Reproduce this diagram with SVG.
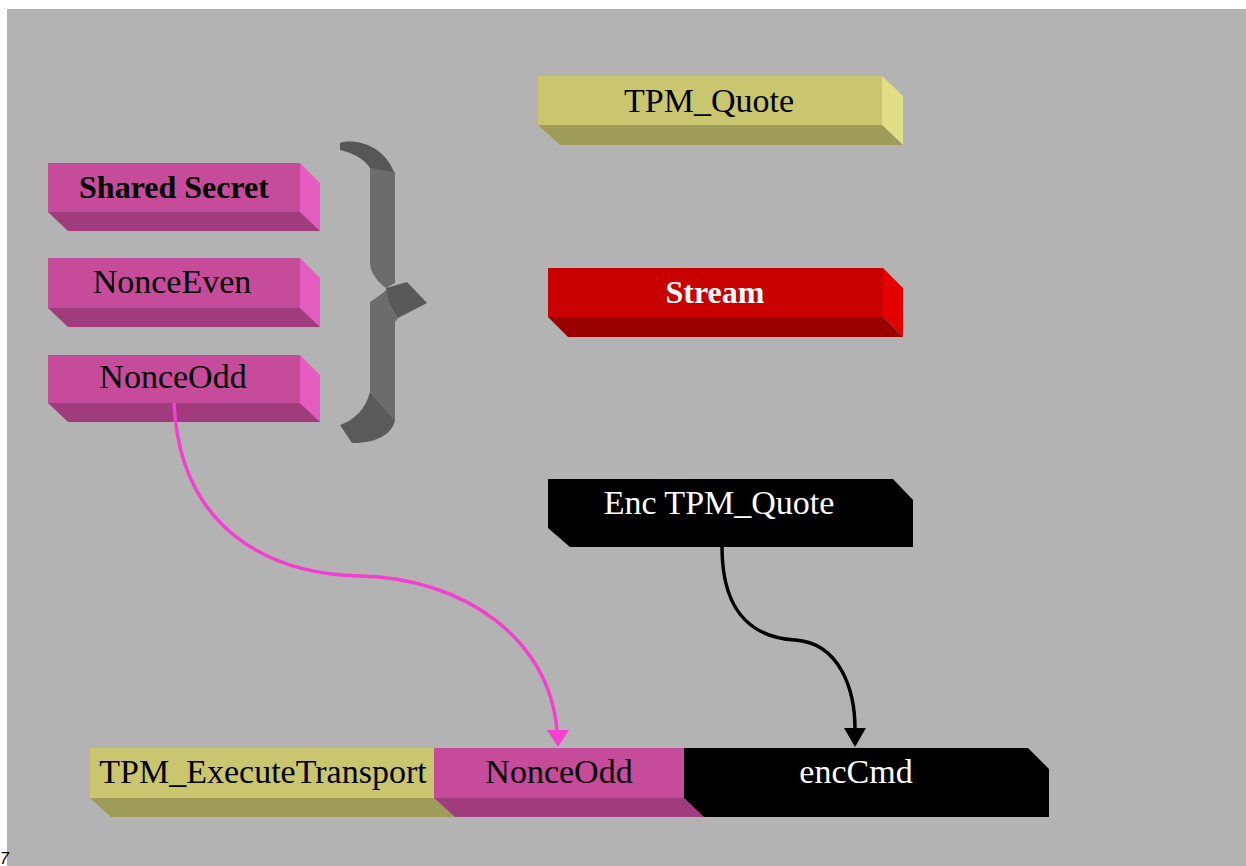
<svg xmlns="http://www.w3.org/2000/svg" width="1246" height="866" viewBox="0 0 1246 866">
<defs>
<style>
.lbl{font-family:"Liberation Serif","Times New Roman",serif;font-size:34px;text-anchor:middle}
.bold{font-weight:bold;font-size:32px}
.dk{fill:#000}
.wt{fill:#fff}
.mf{fill:#c64b9b}.ms{fill:#e45cc0}.mb{fill:#a03b7d}
.kf{fill:#cac56f}.ks{fill:#e2de88}.kb{fill:#9f9b58}
.rf{fill:#c80000}.rs{fill:#e40000}.rb{fill:#9a0000}
.edge{fill:none;stroke-width:3.5}
</style>
</defs>
<rect x="0" y="0" width="1246" height="866" fill="#fff"/>
<rect x="7" y="9" width="1239" height="857" fill="#b3b3b3"/>
<text x="0" y="864" font-family="Liberation Sans, Arial, sans-serif" font-size="16" font-style="italic" fill="#000">7</text>

<g id="brace">
<path d="M340,143 C356,138 386,146 395,175 L370,168 C364,158 350,152 340,150 Z" fill="#565656"/>
<path d="M370,168 L395,172 L395,283 L386,288 C378,282 371,274 370,264 Z" fill="#6c6c6c"/>
<path d="M386,288 L407,282 L427,303 L398,318 C392,310 386,300 386,288 Z" fill="#595959"/>
<path d="M370,302 C376,298 382,294 386,290 C388,302 393,312 398,318 L395,322 L395,420 L370,392 Z" fill="#6c6c6c"/>
<path d="M370,392 L395,420 C392,436 374,443 352,443 L340,425 C355,420 366,408 370,392 Z" fill="#5a5a5a"/>
</g>

<g id="shared-secret">
<rect class="mf" x="48" y="163" width="252" height="49"/>
<polygon class="ms" points="300,163 320,183 320,231 300,212"/>
<polygon class="mb" points="48,212 300,212 320,231 68,231"/>
<text class="lbl bold dk" x="174" y="198">Shared Secret</text>
</g>

<g id="nonce-even">
<rect class="mf" x="48" y="258" width="252" height="50"/>
<polygon class="ms" points="300,258 320,278 320,327 300,308"/>
<polygon class="mb" points="48,308 300,308 320,327 68,327"/>
<text class="lbl dk" x="172" y="293">NonceEven</text>
</g>

<g id="nonce-odd">
<rect class="mf" x="48" y="355" width="252" height="48"/>
<polygon class="ms" points="300,355 320,375 320,422 300,403"/>
<polygon class="mb" points="48,403 300,403 320,422 68,422"/>
<text class="lbl dk" x="173" y="388">NonceOdd</text>
</g>

<g id="tpm-quote">
<rect class="kf" x="538" y="76" width="344" height="49"/>
<polygon class="ks" points="882,76 903,96 903,145 882,125"/>
<polygon class="kb" points="538,125 882,125 903,145 560,145"/>
<text class="lbl dk" x="709" y="112">TPM_Quote</text>
</g>

<g id="stream">
<rect class="rf" x="548" y="268" width="335" height="49"/>
<polygon class="rs" points="883,268 903,288 903,337 883,317"/>
<polygon class="rb" points="548,317 883,317 903,337 568,337"/>
<text class="lbl bold wt" x="715" y="303">Stream</text>
</g>

<g id="enc-tpm-quote">
<polygon class="dk" points="548,479 893,479 913,500 913,547 570,547 548,528"/>
<text class="lbl wt" x="719" y="514">Enc TPM_Quote</text>
</g>

<g id="execute-transport">
<rect class="kf" x="90" y="748" width="344" height="50"/>
<polygon class="kb" points="90,798 434,798 455,817 111,817"/>
<text class="lbl dk" x="263" y="783">TPM_ExecuteTransport</text>
</g>

<g id="bar-nonce-odd">
<rect class="mf" x="434" y="748" width="250" height="50"/>
<polygon class="mb" points="434,798 684,798 704,817 455,817"/>
<text class="lbl dk" x="559" y="783">NonceOdd</text>
</g>

<g id="enc-cmd">
<polygon class="dk" points="684,748 1028,748 1049,769 1049,817 704,817 684,798"/>
<text class="lbl wt" x="856" y="783">encCmd</text>
</g>

<g id="connectors">
<path class="edge" stroke="#f43fd0" d="M174,403 C180,530 270,574 360,576 C465,578 550,640 557,731"/>
<path d="M547,730 L569,730 L558,747 Z" fill="#f43fd0"/>
<path class="edge" stroke="#000" d="M722,547 C722,620 760,638 795,640 C840,643 855,690 855,729"/>
<path d="M844,728 L866,728 L855,747 Z" fill="#000"/>
</g>
</svg>
